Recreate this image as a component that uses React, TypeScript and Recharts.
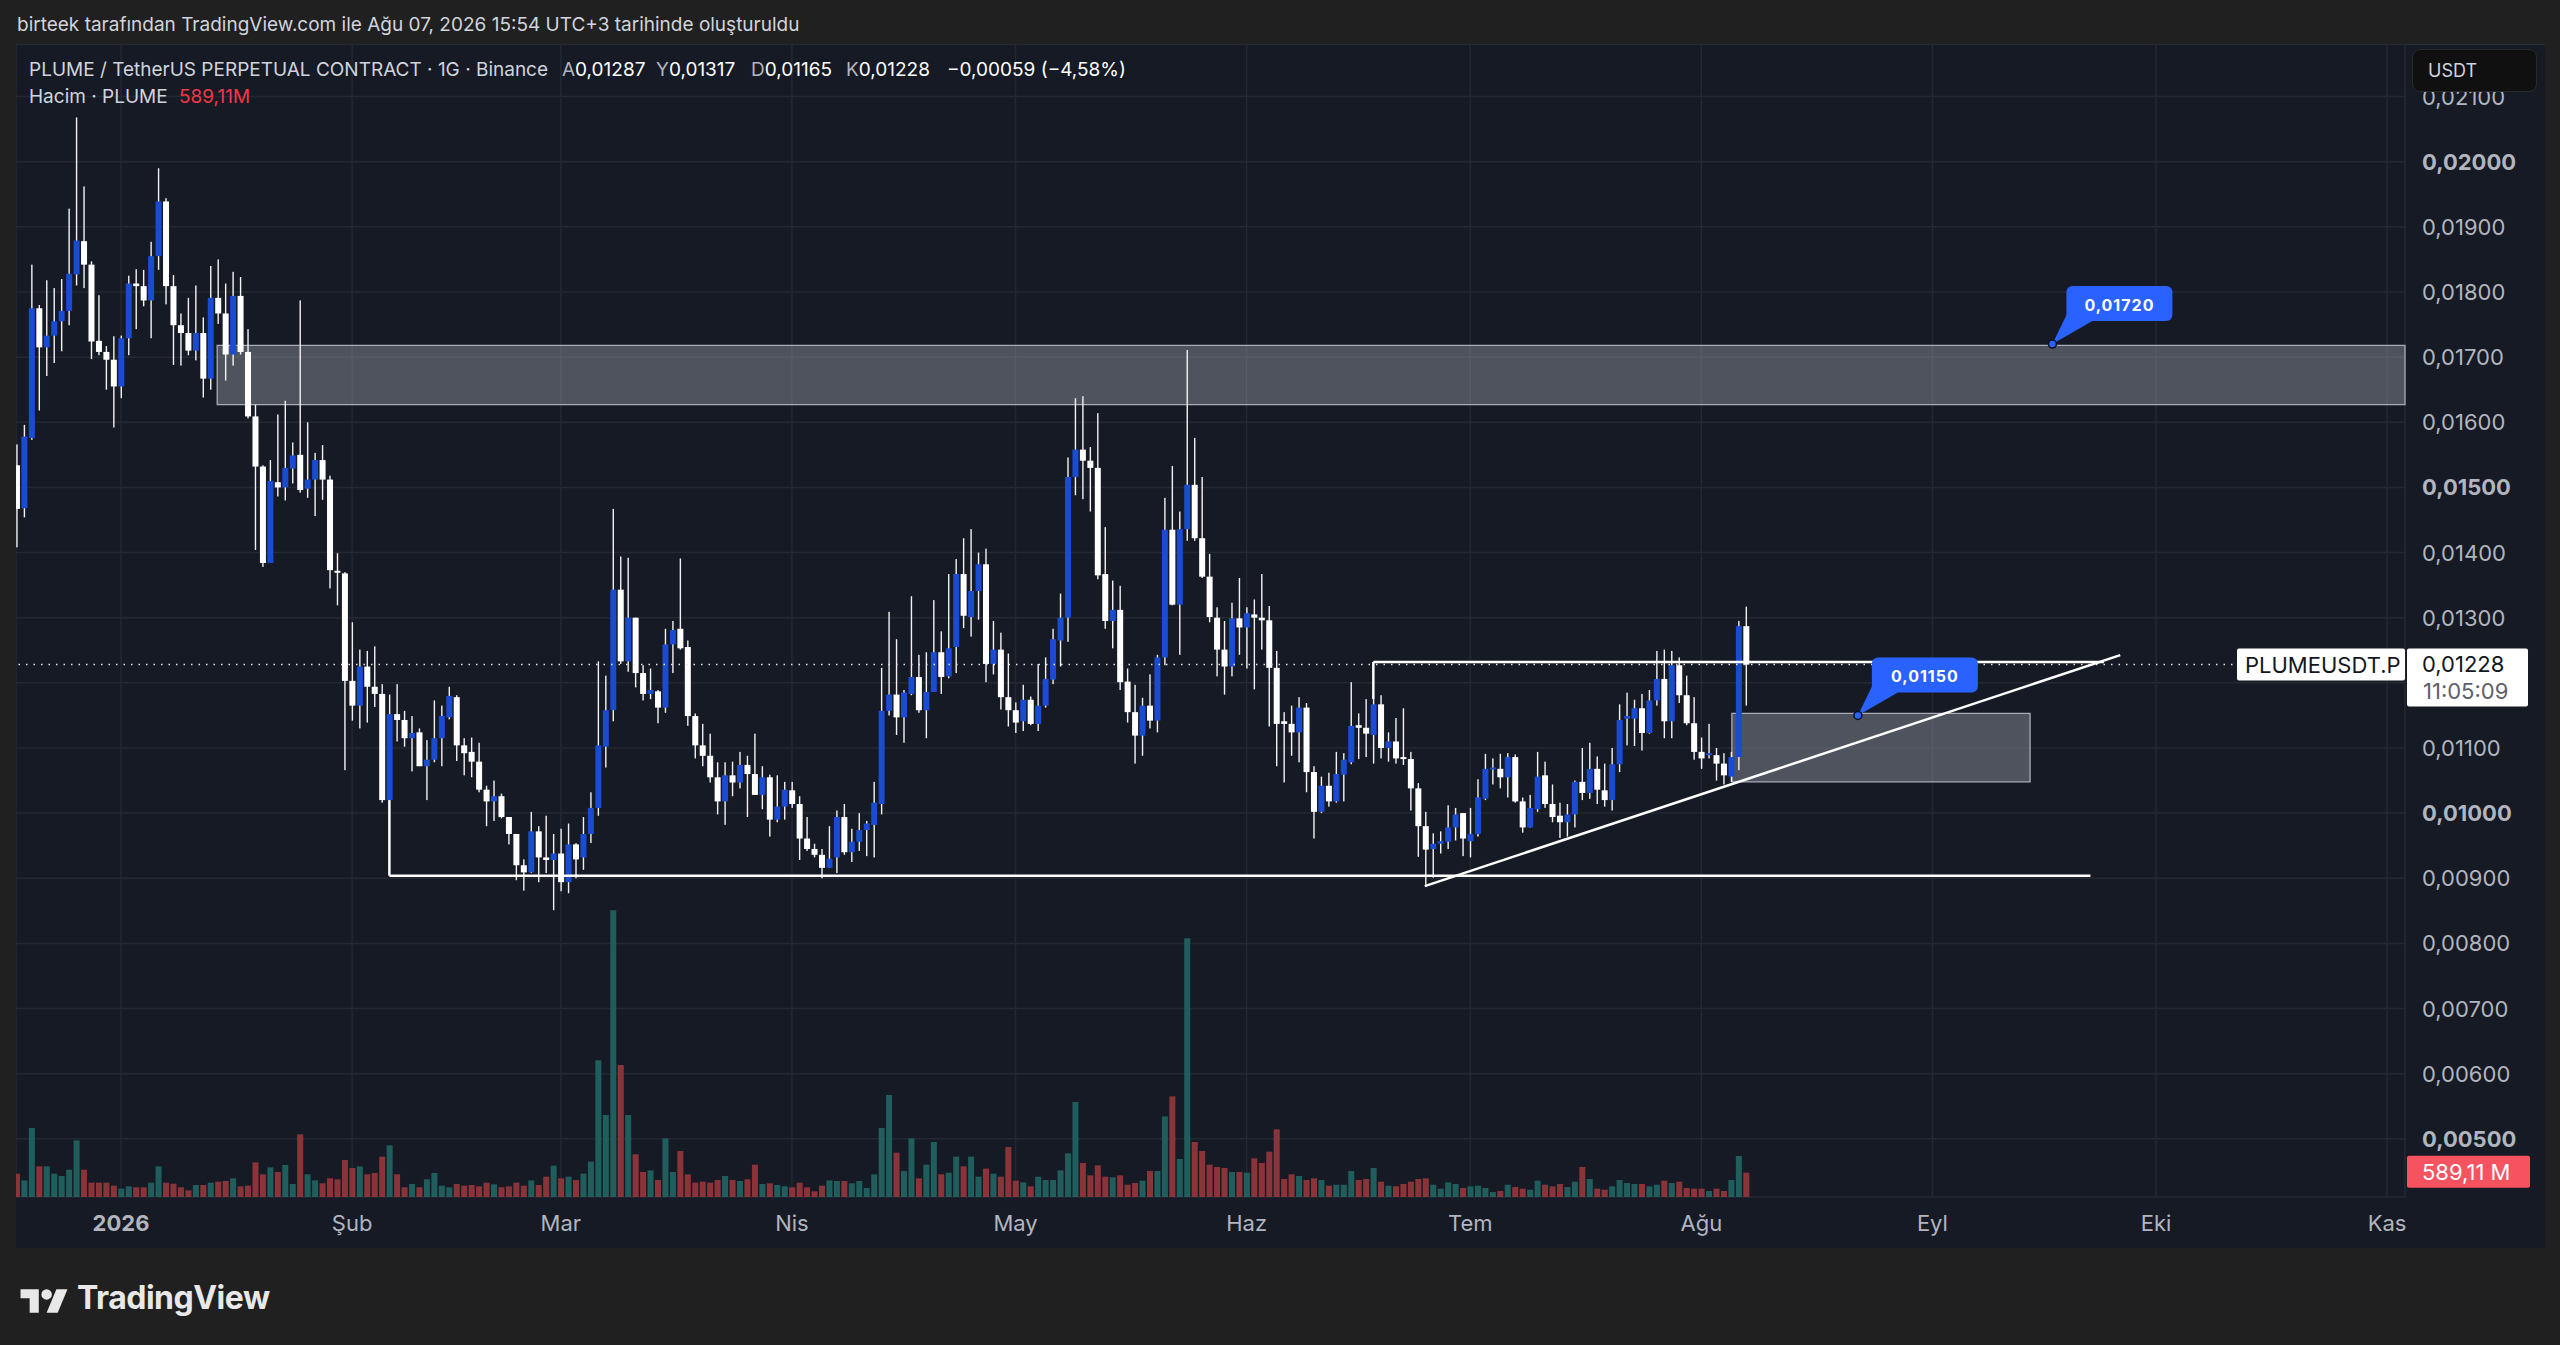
import React from 'react';
import {
  ComposedChart,
  Bar,
  Cell,
  XAxis,
  YAxis,
  CartesianGrid,
  ReferenceArea,
  ReferenceLine,
  ReferenceDot,
} from 'recharts';

// ---- data (daily candles, day index relative to 2026-01-01; first candle = 2025-12-18) ----
const FIRST_DAY = -14;

const OPEN = [
  0.01534, 0.01468, 0.01576, 0.01775, 0.01715, 0.01733, 0.01755, 0.01771, 0.01827, 0.01878, 0.01842, 0.01725, 0.01708, 0.01696,
  0.01655, 0.01729, 0.01813, 0.01809, 0.01787, 0.01855, 0.01939, 0.01809, 0.01749, 0.01737,
  0.0171, 0.01737, 0.01667, 0.01791, 0.01767, 0.01704, 0.01794, 0.01708, 0.01609, 0.01532,
  0.01384, 0.01508, 0.015, 0.01529, 0.0155, 0.01498, 0.01512, 0.01542, 0.01512, 0.01372,
  0.01368, 0.01203, 0.01165, 0.01225, 0.01194, 0.01183, 0.0102, 0.01152, 0.01143, 0.01115,
  0.01124, 0.01072, 0.01082, 0.01115, 0.01147, 0.01178, 0.01104, 0.01094, 0.01079, 0.01036,
  0.01018, 0.01026, 0.00994, 0.00968, 0.0092, 0.00909, 0.00972, 0.00932, 0.00928, 0.00938,
  0.00894, 0.00952, 0.00932, 0.00968, 0.01008, 0.01102, 0.01158, 0.01343, 0.01233, 0.013,
  0.01215, 0.01183, 0.01187, 0.01162, 0.01259, 0.01283, 0.01255, 0.01149, 0.01104, 0.01088,
  0.01055, 0.01018, 0.01058, 0.01047, 0.01074, 0.0106, 0.01028, 0.01055, 0.0099, 0.0101,
  0.01035, 0.01014, 0.00961, 0.00945, 0.00936, 0.00916, 0.00932, 0.00994, 0.0094, 0.00956,
  0.00974, 0.00982, 0.01014, 0.01157, 0.01182, 0.01147, 0.01183, 0.01209, 0.01158, 0.01186,
  0.01247, 0.0121, 0.01255, 0.01367, 0.01301, 0.01341, 0.01382, 0.01229, 0.01251, 0.01178,
  0.01158, 0.01141, 0.01174, 0.01137, 0.01165, 0.01205, 0.01265, 0.013, 0.01516, 0.01558,
  0.01541, 0.0153, 0.01367, 0.01295, 0.01312, 0.01202, 0.01155, 0.01119, 0.01165, 0.01142,
  0.01239, 0.01435, 0.0132, 0.01436, 0.01504, 0.01422, 0.01363, 0.013, 0.01251, 0.01225,
  0.01299, 0.01285, 0.01305, 0.013, 0.01296, 0.01223, 0.01141, 0.01137, 0.01124, 0.01162,
  0.01063, 0.01002, 0.01042, 0.01018, 0.01059, 0.01078, 0.01135, 0.01131, 0.0112, 0.01167,
  0.011, 0.0111, 0.01086, 0.01083, 0.01038, 0.0098, 0.00945, 0.00953, 0.00956, 0.00978,
  0.01, 0.00957, 0.00968, 0.01022, 0.01067, 0.01068, 0.01055, 0.01086, 0.01018, 0.00978,
  0.01006, 0.01058, 0.01014, 0.00996, 0.00986, 0.00998, 0.01048, 0.01031, 0.01068, 0.01035,
  0.0102, 0.01075, 0.01145, 0.01145, 0.01161, 0.01123, 0.01173, 0.01206, 0.01141, 0.01227,
  0.01181, 0.01138, 0.01094, 0.01089, 0.01089, 0.01076, 0.01056, 0.01086, 0.01287,
];

const HIGH = [
  0.01566, 0.01596, 0.01842, 0.0178, 0.01818, 0.01806, 0.0182, 0.01928, 0.02068, 0.01962, 0.01847, 0.01795, 0.01717, 0.01732,
  0.01733, 0.01825, 0.01835, 0.01834, 0.01877, 0.0199, 0.01944, 0.01826, 0.01767, 0.01791,
  0.0181, 0.01761, 0.0184, 0.0185, 0.01813, 0.01831, 0.01823, 0.01743, 0.01627, 0.01534,
  0.01542, 0.01612, 0.01633, 0.01569, 0.01787, 0.016, 0.01553, 0.01565, 0.01518, 0.01399,
  0.0137, 0.01293, 0.01251, 0.01249, 0.01256, 0.01198, 0.01182, 0.01198, 0.01157, 0.01149,
  0.0113, 0.01112, 0.01173, 0.01165, 0.01194, 0.01181, 0.01115, 0.01116, 0.01108, 0.01042,
  0.0105, 0.0103, 0.00994, 0.00968, 0.00929, 0.01002, 0.0098, 0.00996, 0.00968, 0.00976,
  0.00984, 0.00954, 0.00994, 0.01032, 0.01233, 0.01211, 0.01467, 0.01394, 0.01392, 0.013,
  0.01227, 0.01222, 0.01189, 0.01283, 0.01295, 0.01391, 0.01265, 0.01153, 0.01137, 0.01122,
  0.01078, 0.01078, 0.01079, 0.01094, 0.01088, 0.01122, 0.01072, 0.01059, 0.01058, 0.01048,
  0.01048, 0.01026, 0.00994, 0.00953, 0.00945, 0.0098, 0.01004, 0.01014, 0.00976, 0.01,
  0.00988, 0.01048, 0.01223, 0.01309, 0.01267, 0.01189, 0.01333, 0.01243, 0.01247, 0.01327,
  0.01279, 0.01367, 0.0139, 0.01422, 0.01436, 0.014, 0.01406, 0.01295, 0.01277, 0.01245,
  0.0117, 0.01197, 0.01179, 0.01229, 0.01239, 0.01283, 0.01337, 0.01546, 0.01637, 0.0164,
  0.01562, 0.01614, 0.01439, 0.01357, 0.01349, 0.01222, 0.01197, 0.01177, 0.01213, 0.01243,
  0.01484, 0.01533, 0.01463, 0.01711, 0.01576, 0.01516, 0.01398, 0.01316, 0.01295, 0.01323,
  0.01361, 0.01316, 0.01328, 0.01367, 0.01318, 0.01249, 0.01155, 0.01165, 0.01178, 0.01169,
  0.01072, 0.01056, 0.01062, 0.01094, 0.01092, 0.01201, 0.01153, 0.01175, 0.01175, 0.01181,
  0.01124, 0.01146, 0.01161, 0.01094, 0.01046, 0.01002, 0.00969, 0.00972, 0.01012, 0.01008,
  0.01, 0.01008, 0.01052, 0.01091, 0.01084, 0.01091, 0.01092, 0.0109, 0.01024, 0.01028,
  0.01094, 0.01079, 0.01044, 0.01016, 0.01014, 0.0105, 0.011, 0.01108, 0.01087, 0.01076,
  0.011, 0.01167, 0.01185, 0.01174, 0.01183, 0.01189, 0.01249, 0.01251, 0.01249, 0.01239,
  0.01211, 0.01178, 0.01116, 0.01137, 0.011, 0.01092, 0.01094, 0.01295, 0.01317,
];

const LOW = [
  0.01408, 0.01454, 0.01573, 0.01618, 0.01671, 0.01691, 0.01709, 0.01749, 0.0181, 0.01806, 0.01697, 0.01703, 0.0165, 0.01592,
  0.01637, 0.01703, 0.01743, 0.01778, 0.01729, 0.01834, 0.01781, 0.01688, 0.01687, 0.01703,
  0.01695, 0.01638, 0.0165, 0.01751, 0.01664, 0.01687, 0.01704, 0.01606, 0.01404, 0.01378,
  0.01384, 0.01486, 0.0148, 0.01506, 0.01492, 0.01484, 0.01456, 0.01481, 0.01345, 0.01319,
  0.01066, 0.01142, 0.0113, 0.01139, 0.01163, 0.01016, 0.0102, 0.0111, 0.01102, 0.01064,
  0.01072, 0.0102, 0.01078, 0.01072, 0.01144, 0.0108, 0.01058, 0.01055, 0.01032, 0.0098,
  0.00988, 0.00992, 0.00952, 0.00897, 0.00881, 0.00908, 0.00894, 0.00908, 0.00851, 0.0088,
  0.00877, 0.009, 0.00913, 0.00954, 0.00996, 0.0107, 0.01141, 0.01229, 0.01217, 0.01193,
  0.01173, 0.01175, 0.01138, 0.01154, 0.01215, 0.01251, 0.01134, 0.01084, 0.01072, 0.01047,
  0.00998, 0.00982, 0.01026, 0.01038, 0.00994, 0.01028, 0.01006, 0.00964, 0.00986, 0.0099,
  0.01008, 0.00928, 0.00942, 0.00932, 0.009, 0.00916, 0.00908, 0.00936, 0.00925, 0.00942,
  0.00934, 0.00932, 0.00998, 0.0115, 0.0112, 0.01108, 0.01181, 0.01154, 0.01115, 0.01186,
  0.01183, 0.01207, 0.01215, 0.01284, 0.01271, 0.01297, 0.01201, 0.01213, 0.01159, 0.01133,
  0.01123, 0.01126, 0.01135, 0.01126, 0.01162, 0.01198, 0.01225, 0.01263, 0.01488, 0.01482,
  0.01463, 0.01359, 0.01283, 0.01253, 0.01189, 0.01139, 0.01076, 0.01088, 0.0113, 0.01124,
  0.01227, 0.01319, 0.01243, 0.01418, 0.01418, 0.01361, 0.01293, 0.0121, 0.01182, 0.0121,
  0.01243, 0.01222, 0.0119, 0.01251, 0.01133, 0.01072, 0.01047, 0.01088, 0.01078, 0.01032,
  0.00961, 0.01, 0.0101, 0.01016, 0.01018, 0.01075, 0.01083, 0.01086, 0.01076, 0.01084,
  0.01079, 0.01076, 0.01074, 0.01004, 0.00933, 0.0089, 0.00901, 0.00938, 0.00945, 0.00958,
  0.00934, 0.00932, 0.00964, 0.0102, 0.01044, 0.01038, 0.01024, 0.01016, 0.0097, 0.00978,
  0.01002, 0.01008, 0.00986, 0.00962, 0.00964, 0.00978, 0.0102, 0.01022, 0.01014, 0.0101,
  0.01004, 0.01063, 0.01104, 0.01103, 0.01096, 0.01122, 0.01165, 0.01115, 0.01115, 0.01169,
  0.01135, 0.01082, 0.01068, 0.01084, 0.0105, 0.01044, 0.01048, 0.01066, 0.01165,
];

const CLOSE = [
  0.01467, 0.01578, 0.01775, 0.01715, 0.01733, 0.01755, 0.01771, 0.01828, 0.01879, 0.01842, 0.01724, 0.01708, 0.01696, 0.01655,
  0.01729, 0.01813, 0.01809, 0.01787, 0.01855, 0.01939, 0.01809, 0.01749, 0.01737, 0.0171,
  0.01737, 0.01667, 0.01791, 0.01767, 0.01704, 0.01794, 0.01708, 0.01609, 0.01532, 0.01384,
  0.0151, 0.015, 0.0153, 0.01549, 0.01496, 0.01512, 0.01542, 0.01512, 0.01373, 0.01369,
  0.01203, 0.01165, 0.01225, 0.01194, 0.01183, 0.0102, 0.01152, 0.01143, 0.01115, 0.01123,
  0.01072, 0.01082, 0.01115, 0.01149, 0.0118, 0.01104, 0.01092, 0.01079, 0.01036, 0.01018,
  0.01026, 0.00994, 0.00968, 0.0092, 0.00909, 0.00972, 0.00932, 0.00928, 0.00938, 0.00894,
  0.00952, 0.00929, 0.00968, 0.01008, 0.01104, 0.01158, 0.01343, 0.01233, 0.013, 0.01215,
  0.01183, 0.01189, 0.01162, 0.01259, 0.01281, 0.01253, 0.01149, 0.01104, 0.01088, 0.01055,
  0.01018, 0.01058, 0.01047, 0.01074, 0.0106, 0.01028, 0.01055, 0.0099, 0.0101, 0.01036,
  0.01014, 0.00961, 0.00945, 0.00936, 0.00916, 0.0093, 0.00994, 0.0094, 0.00956, 0.00974,
  0.00984, 0.01016, 0.01157, 0.01182, 0.01147, 0.01185, 0.01209, 0.01158, 0.01186, 0.01247,
  0.01209, 0.01253, 0.01367, 0.01303, 0.01341, 0.01382, 0.01229, 0.01251, 0.01178, 0.01158,
  0.01139, 0.01174, 0.01137, 0.01165, 0.01206, 0.01267, 0.013, 0.01516, 0.01558, 0.01541,
  0.0153, 0.01365, 0.01295, 0.01312, 0.01201, 0.01155, 0.01119, 0.01165, 0.01142, 0.01239,
  0.01435, 0.0132, 0.01436, 0.01504, 0.01422, 0.01363, 0.01301, 0.01251, 0.01225, 0.01299,
  0.01285, 0.01307, 0.013, 0.01296, 0.01223, 0.01137, 0.01137, 0.01124, 0.01162, 0.01063,
  0.01002, 0.01042, 0.01018, 0.0106, 0.01082, 0.01134, 0.01131, 0.01122, 0.01167, 0.011,
  0.0111, 0.01084, 0.01083, 0.01038, 0.0098, 0.00944, 0.00953, 0.00957, 0.00978, 0.00998,
  0.00961, 0.00968, 0.01024, 0.01068, 0.0107, 0.01055, 0.01086, 0.01018, 0.00978, 0.01008,
  0.01056, 0.01014, 0.00994, 0.00986, 0.00998, 0.01048, 0.01031, 0.01068, 0.01036, 0.0102,
  0.01075, 0.01143, 0.01149, 0.01161, 0.01123, 0.01173, 0.01206, 0.01141, 0.01227, 0.01181,
  0.01138, 0.01094, 0.01084, 0.01092, 0.01076, 0.01058, 0.01086, 0.01287, 0.01228,
];

// volume, millions of PLUME
const VOLUME_M = [
  565, 403, 1670, 742, 742, 565, 508, 661, 1371, 661, 347, 347, 347, 274,
  202, 258, 234, 234, 347, 742, 347, 323, 234, 161,
  290, 290, 347, 371, 387, 452, 258, 274, 839, 549,
  718, 605, 774, 315, 1517, 549, 403, 331, 452, 428,
  895, 702, 742, 549, 581, 976, 1250, 549, 234, 315,
  234, 428, 581, 274, 234, 315, 274, 290, 258, 347,
  307, 234, 258, 347, 274, 403, 290, 492, 758, 452,
  492, 411, 565, 855, 3307, 1984, 6938, 3195, 1984, 1033,
  605, 645, 411, 1420, 605, 1113, 549, 347, 371, 347,
  411, 508, 411, 387, 428, 782, 315, 331, 290, 258,
  234, 347, 234, 137, 274, 403, 387, 387, 331, 387,
  218, 549, 1670, 2469, 1073, 629, 1420, 452, 782, 1331,
  549, 589, 976, 742, 976, 492, 686, 565, 492, 1210,
  395, 355, 258, 492, 411, 411, 645, 1057, 2299, 823,
  524, 766, 492, 476, 524, 298, 339, 395, 629, 629,
  1952, 2436, 920, 6260, 1331, 1113, 782, 726, 702, 605,
  605, 589, 936, 823, 1097, 1638, 436, 549, 508, 411,
  452, 411, 274, 298, 298, 629, 411, 436, 702, 371,
  274, 258, 315, 371, 436, 452, 298, 202, 355, 315,
  218, 258, 274, 218, 121, 145, 298, 242, 202, 177,
  395, 298, 258, 315, 242, 371, 726, 436, 202, 177,
  258, 411, 339, 315, 315, 258, 298, 395, 339, 371,
  218, 202, 202, 145, 202, 145, 411, 992, 589.11,
];

const MONTH_TICKS = [0, 31, 59, 90, 120, 151, 181, 212, 243, 273, 304];
const MONTH_LABELS = ['2026', 'Şub', 'Mar', 'Nis', 'May', 'Haz', 'Tem', 'Ağu', 'Eyl', 'Eki', 'Kas'];
const PRICE_TICKS = [0.005, 0.006, 0.007, 0.008, 0.009, 0.01, 0.011, 0.012, 0.013, 0.014, 0.015, 0.016, 0.017, 0.018, 0.019, 0.02, 0.021];
const BOLD_TICKS = [0.005, 0.01, 0.015, 0.02];

// drawings (data coordinates)
const ZONE_TOP = { x1: 12.9, x2: 306.4, y1: 0.01627, y2: 0.01718 };
const ZONE_LOW = { x1: 216.1, x2: 256.1, y1: 0.01048, y2: 0.01153 };
const SUPPORT = { x1: 36, x2: 264.2, y: 0.00904, yFrom: 0.0102 };
const RESIST = { x1: 168, x2: 266, y: 0.01232, yFrom: 0.01175 };
const TREND = { x1: 174.9, y1: 0.00888, x2: 268.2, y2: 0.012426 };
const CALLOUTS = [
  { t: 259.1, p: 0.0172, text: '0,01720' },
  { t: 233.0, p: 0.0115, text: '0,01150' },
];
const LAST_PRICE = 0.01228;
const LAST_VOLUME = 589.11;

// ---- styling ----
const FONT = "Inter, 'Noto Sans', 'DejaVu Sans', sans-serif";
const PAGE_BG = '#202020';
const PANEL_BG = '#161a25';
const GRID = '#242833';
const AXIS_TEXT = '#b2b5be';
const UP = '#1a4bd3';
const DOWN = '#ffffff';
const WICK = '#f2f2f2';
const VOL_UP = '#1f5e5c';
const VOL_DOWN = '#8a3439';
const BLUE = '#2962ff';

const X_DOMAIN = [-14.09, 306.4];
const P_DOMAIN = [0.004107, 0.021807];
const V_DOMAIN = [0, 27900];

const fmt = (v: number) => v.toFixed(5).replace('.', ',');

const data = OPEN.map((o, i) => ({
  t: FIRST_DAY + i,
  open: o,
  high: HIGH[i],
  low: LOW[i],
  close: CLOSE[i],
  vol: VOLUME_M[i],
}));

const CandleShape = (props: any) => {
  const { x, y, width, height, payload } = props;
  if (x == null || y == null || !payload) return null;
  const { open, close, high, low } = payload;
  const top0 = Math.min(y, y + height);
  const h = Math.abs(height);
  const k = high - low > 0 ? h / (high - low) : 0;
  const py = (v: number) => top0 + (high - v) * k;
  const up = close >= open;
  const bTop = py(Math.max(open, close));
  const bBot = py(Math.min(open, close));
  const cx = x + width / 2;
  return (
    <g>
      <rect x={cx - 0.7} y={top0} width={1.4} height={Math.max(h, 1)} fill={WICK} />
      <rect x={x} y={bTop} width={width} height={Math.max(bBot - bTop, 1.2)} fill={up ? UP : DOWN} />
    </g>
  );
};

const TimeTick = (props: any) => {
  const { x, y, payload } = props;
  const i = MONTH_TICKS.indexOf(payload.value);
  if (i < 0) return null;
  return (
    <text x={x} y={y + 26} textAnchor="middle" dominantBaseline="central" fill={AXIS_TEXT}
      fontSize={22} fontWeight={i === 0 ? 700 : 400} fontFamily={FONT}>
      {MONTH_LABELS[i]}
    </text>
  );
};

const PriceTick = (props: any) => {
  const { x, y, payload } = props;
  const v = payload.value as number;
  // the label under the last-price box is covered in the original
  if (Math.abs(v - LAST_PRICE) < 0.0005) return null;
  const bold = BOLD_TICKS.some((b) => Math.abs(b - v) < 1e-9);
  return (
    <text x={x + 17} y={y} textAnchor="start" dominantBaseline="central" fill={AXIS_TEXT}
      fontSize={22} fontWeight={bold ? 700 : 400} fontFamily={FONT}>
      {fmt(v)}
    </text>
  );
};

const Callout = (props: any) => {
  const { cx, cy, text } = props;
  if (cx == null || cy == null) return null;
  const bx = cx + 14;
  const by = cy - 58;
  const bw = 106;
  const bh = 35;
  return (
    <g>
      <path d={`M${cx},${cy} L${bx + 1},${by + bh - 8} L${bx + 26},${by + bh} Z`} fill={BLUE} />
      <rect x={bx} y={by} width={bw} height={bh} rx={6} ry={6} fill={BLUE} />
      <text x={bx + bw / 2} y={by + bh / 2 + 1} textAnchor="middle" dominantBaseline="central" fill="#ffffff"
        fontSize={16} fontWeight={700} letterSpacing={1} fontFamily={FONT}>
        {text}
      </text>
      <circle cx={cx} cy={cy} r={4} fill={BLUE} stroke="#0d1020" strokeWidth={1.5} />
    </g>
  );
};

const LastPriceLabel = (props: any) => {
  const vb = props.viewBox || {};
  const right = (vb.x || 0) + (vb.width || 0);
  const y = vb.y || 0;
  return (
    <g>
      <rect x={right - 168} y={y - 16} width={168} height={32} rx={2} fill="#ffffff" />
      <text x={right - 160} y={y} dominantBaseline="central" fill="#131722" fontSize={22} fontFamily={FONT}>
        PLUMEUSDT.P
      </text>
      <rect x={right + 2} y={y - 16} width={121} height={58} rx={2} fill="#ffffff" />
      <text x={right + 17} y={y - 1} dominantBaseline="central" fill="#131722" fontSize={22} fontFamily={FONT}>
        {fmt(LAST_PRICE)}
      </text>
      <text x={right + 18} y={y + 26} dominantBaseline="central" fill="#5d606b" fontSize={22} fontFamily={FONT}>
        11:05:09
      </text>
    </g>
  );
};

const VolumeLabel = (props: any) => {
  const vb = props.viewBox || {};
  const right = (vb.x || 0) + (vb.width || 0);
  const y = vb.y || 0;
  return (
    <g>
      <rect x={right + 2} y={y - 17} width={123} height={32} rx={2} fill="#f7525f" />
      <text x={right + 17} y={y - 1} dominantBaseline="central" fill="#ffffff" fontSize={22} fontFamily={FONT}>
        {LAST_VOLUME.toFixed(2).replace('.', ',')} M
      </text>
    </g>
  );
};

const TVLogo = () => (
  <svg style={{ position: 'absolute', left: 20, top: 1284 }} width={48} height={30} viewBox="0 0 36 23">
    <path d="M14 22H7V11H0V4h14v18z" fill="#e8e8e8" />
    <circle cx={20} cy={8} r={4} fill="#e8e8e8" />
    <path d="M20 22l7.5-18H36l-7.5 18H20z" fill="#e8e8e8" />
  </svg>
);

const LEGEND_FS = 19;

export default function App() {
  const ohlcSeg = (letter: string, value: string, left: number) => (
    <div style={{ position: 'absolute', left, top: 58, fontSize: LEGEND_FS, lineHeight: '24px', whiteSpace: 'nowrap' }}>
      <span style={{ color: '#b2b5be' }}>{letter}</span>
      <span style={{ color: '#ffffff' }}>{value}</span>
    </div>
  );
  return (
    <div style={{ position: 'absolute', left: 0, top: 0, width: 2560, height: 1345, background: PAGE_BG, overflow: 'hidden', fontFamily: FONT }}>
      <div style={{ position: 'absolute', left: 17, top: 13, fontSize: LEGEND_FS, lineHeight: '24px', color: '#d1d4dc', whiteSpace: 'nowrap' }}>
        birteek tarafından TradingView.com ile Ağu 07, 2026 15:54 UTC+3 tarihinde oluşturuldu
      </div>

      <div style={{ position: 'absolute', left: 16, top: 44, width: 2529, height: 1204, background: PANEL_BG, borderTop: '1px solid #2a2e39', boxSizing: 'border-box' }} />
      <div style={{ position: 'absolute', left: 16, top: 44 }}>
        <ComposedChart width={2529} height={1204} data={data} margin={{ top: 0, right: 0, bottom: 0, left: 0 }}>
          <CartesianGrid xAxisId="t" yAxisId="price" stroke={GRID} strokeWidth={1.5} />
          <XAxis xAxisId="t" dataKey="t" type="number" domain={X_DOMAIN} allowDataOverflow ticks={MONTH_TICKS}
            interval={0} tick={<TimeTick />} tickLine={false} axisLine={false} tickSize={0} tickMargin={0} height={51} />
          <XAxis xAxisId="v" dataKey="t" type="number" domain={X_DOMAIN} allowDataOverflow hide />
          <YAxis yAxisId="price" orientation="right" type="number" domain={P_DOMAIN} allowDataOverflow ticks={PRICE_TICKS}
            interval={0} tick={<PriceTick />} tickLine={false} axisLine={false} tickSize={0} tickMargin={0} width={140} />
          <YAxis yAxisId="vol" type="number" domain={V_DOMAIN} allowDataOverflow hide />

          <ReferenceArea xAxisId="t" yAxisId="price" x1={ZONE_TOP.x1} x2={ZONE_TOP.x2} y1={ZONE_TOP.y1} y2={ZONE_TOP.y2}
            fill="#9598a1" fillOpacity={0.45} stroke="#a9acb4" strokeWidth={1.3} ifOverflow="extendDomain" />
          <ReferenceArea xAxisId="t" yAxisId="price" x1={ZONE_LOW.x1} x2={ZONE_LOW.x2} y1={ZONE_LOW.y1} y2={ZONE_LOW.y2}
            fill="#9598a1" fillOpacity={0.45} stroke="#a9acb4" strokeWidth={1.3} />

          <Bar xAxisId="v" yAxisId="vol" dataKey="vol" barSize={6} isAnimationActive={false}>
            {data.map((d, i) => (
              <Cell key={i} fill={d.close >= d.open ? VOL_UP : VOL_DOWN} />
            ))}
          </Bar>
          <Bar xAxisId="t" yAxisId="price" dataKey={(d: any) => [d.low, d.high]} barSize={6}
            shape={<CandleShape />} isAnimationActive={false} />

          <ReferenceLine xAxisId="t" yAxisId="price" y={LAST_PRICE} stroke="#e6e6e6" strokeWidth={1.5}
            strokeDasharray="1.5 6" label={<LastPriceLabel />} />
          <ReferenceLine xAxisId="t" yAxisId="vol" y={LAST_VOLUME} stroke="none" strokeOpacity={0} label={<VolumeLabel />} />

          <ReferenceLine xAxisId="t" yAxisId="price" stroke="#ffffff" strokeWidth={2.5}
            segment={[{ x: SUPPORT.x1, y: SUPPORT.y }, { x: SUPPORT.x2, y: SUPPORT.y }]} />
          <ReferenceLine xAxisId="t" yAxisId="price" stroke="#ffffff" strokeWidth={2.5}
            segment={[{ x: SUPPORT.x1, y: SUPPORT.yFrom }, { x: SUPPORT.x1, y: SUPPORT.y }]} />
          <ReferenceLine xAxisId="t" yAxisId="price" stroke="#ffffff" strokeWidth={2.5}
            segment={[{ x: RESIST.x1, y: RESIST.y }, { x: RESIST.x2, y: RESIST.y }]} />
          <ReferenceLine xAxisId="t" yAxisId="price" stroke="#ffffff" strokeWidth={2.5}
            segment={[{ x: RESIST.x1, y: RESIST.yFrom }, { x: RESIST.x1, y: RESIST.y }]} />
          <ReferenceLine xAxisId="t" yAxisId="price" stroke="#ffffff" strokeWidth={2.5}
            segment={[{ x: TREND.x1, y: TREND.y1 }, { x: TREND.x2, y: TREND.y2 }]} />

          {CALLOUTS.map((c) => (
            <ReferenceDot key={c.text} xAxisId="t" yAxisId="price" x={c.t} y={c.p} r={4}
              shape={(p: any) => <Callout {...p} text={c.text} />} />
          ))}
        </ComposedChart>
      </div>

      {/* legend */}
      <div style={{ position: 'absolute', left: 29, top: 58, fontSize: LEGEND_FS, lineHeight: '24px', color: '#d1d4dc', whiteSpace: 'nowrap' }}>
        PLUME / TetherUS PERPETUAL CONTRACT · 1G · Binance
      </div>
      {ohlcSeg('A', fmt(OPEN[OPEN.length - 1]), 562)}
      {ohlcSeg('Y', fmt(HIGH[HIGH.length - 1]), 656)}
      {ohlcSeg('D', fmt(LOW[LOW.length - 1]), 751)}
      {ohlcSeg('K', fmt(CLOSE[CLOSE.length - 1]), 846)}
      <div style={{ position: 'absolute', left: 947, top: 58, fontSize: LEGEND_FS, lineHeight: '24px', color: '#ffffff', whiteSpace: 'nowrap' }}>
        −0,00059 (−4,58%)
      </div>
      <div style={{ position: 'absolute', left: 29, top: 85, fontSize: LEGEND_FS, lineHeight: '24px', color: '#d1d4dc', whiteSpace: 'nowrap' }}>
        Hacim · PLUME
      </div>
      <div style={{ position: 'absolute', left: 179, top: 85, fontSize: LEGEND_FS, lineHeight: '24px', color: '#f23645', whiteSpace: 'nowrap' }}>
        589,11M
      </div>

      {/* currency box */}
      <div style={{ position: 'absolute', left: 2412, top: 49, width: 125, height: 43, background: '#101010', border: '1px solid #2a2a2a',
        borderRadius: 8, boxSizing: 'border-box', color: '#d1d4dc', fontSize: 18, lineHeight: '41px', paddingLeft: 15 }}>
        USDT
      </div>

      <TVLogo />
      <div style={{ position: 'absolute', left: 77, top: 1278, fontSize: 32, fontWeight: 700, lineHeight: '40px', color: '#e8e8e8', whiteSpace: 'nowrap', letterSpacing: -0.5 }}>
        TradingView
      </div>
    </div>
  );
}
